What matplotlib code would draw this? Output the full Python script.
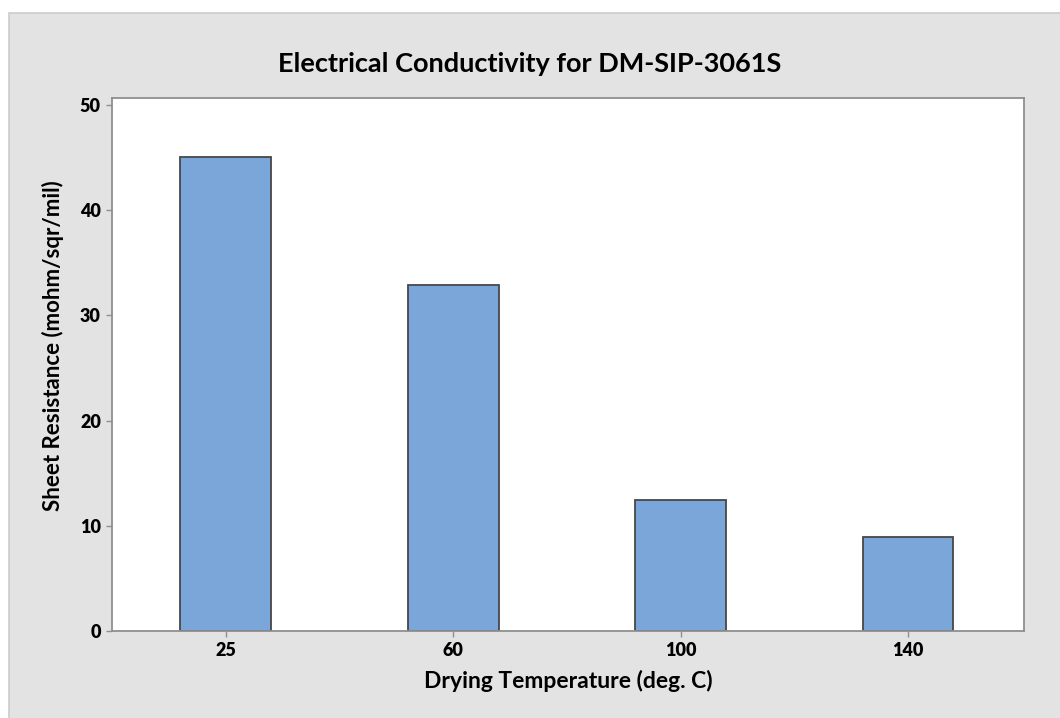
import matplotlib.pyplot as plt
from matplotlib.patches import Rectangle

# data
temps = ["25", "60", "100", "140"]
resistance = [45.1, 32.9, 12.5, 8.9]

plt.rcParams["font.family"] = ["Lato", "DejaVu Sans"]
plt.rcParams["font.weight"] = "bold"

fig = plt.figure(figsize=(10.6, 7.18), dpi=100, facecolor="white")

# grey panel behind the chart (runs off the right and bottom edges)
panel = Rectangle((9 / 1060, -0.05), 1.1, 1.05 - 13 / 718, transform=fig.transFigure,
                  facecolor="#e3e3e3", edgecolor="#cccccc", linewidth=1.2, zorder=-5)
fig.patches.append(panel)

ax = fig.add_axes([112 / 1060, 1 - 631 / 718, (1024 - 112) / 1060, (631 - 98) / 718])
ax.set_zorder(2)
ax.set_facecolor("white")

x = range(len(temps))
ax.bar(x, resistance, width=0.4, color="#7ba6d9", edgecolor="#474747", linewidth=1.3)

ax.set_xlim(-0.5, 3.51)
ax.set_ylim(0, 50.67)
ax.set_xticks(list(x))
ax.set_xticklabels(temps)
ax.set_yticks([0, 10, 20, 30, 40, 50])

for s in ax.spines.values():
    s.set_color("#8f8f8f")
    s.set_linewidth(1.3)
ax.tick_params(axis="both", direction="out", length=4, width=1, color="#8f8f8f",
               labelsize=13, pad=4)
for lbl in ax.get_xticklabels() + ax.get_yticklabels():
    lbl.set_fontweight("heavy")

ax.set_xlabel("Drying Temperature (deg. C)", fontsize=16.5, fontweight="bold", labelpad=8)
ax.set_ylabel("Sheet Resistance (mohm/sqr/mil)", fontsize=16, fontweight="bold")
ax.yaxis.set_label_coords(-0.053, 0.535)
fig.text(530 / 1060, 1 - 64 / 718, "Electrical Conductivity for DM-SIP-3061S",
         ha="center", va="center", fontsize=19.5, fontweight="bold")

plt.savefig("out.png", dpi=100)
